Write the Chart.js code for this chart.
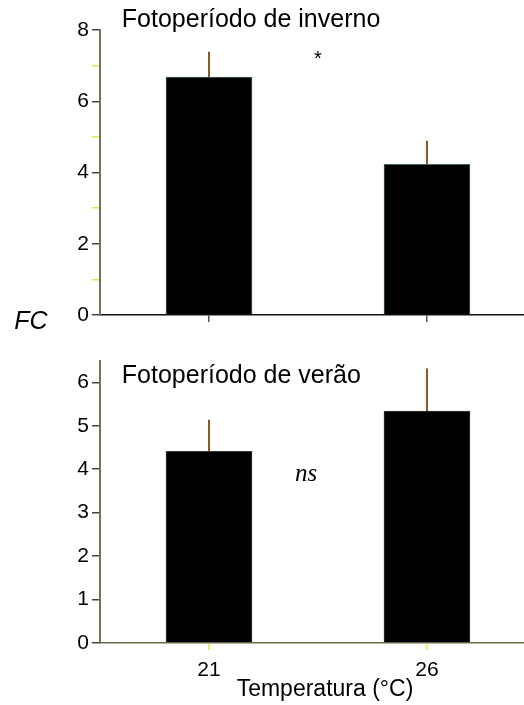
<!DOCTYPE html>
<html lang="pt">
<head>
<meta charset="UTF-8">
<title>FC - fotoperíodo e temperatura</title>
<script src="https://cdn.jsdelivr.net/npm/chart.js@4.4.1/dist/chart.umd.min.js"></script>
<style>
  body { margin: 0; background: #fff; }
  #wrap { position: relative; width: 524px; height: 705px; }
  #wrap canvas { position: absolute; left: 0; }
</style>
</head>
<body>
<div id="wrap">
  <canvas id="inverno" width="524" height="345" style="top:0"></canvas>
  <canvas id="verao" width="524" height="360" style="top:345px"></canvas>
</div>
<script>
// dados
const categorias = ['21', '26'];
const mediaInverno = [6.68, 4.23];
const erroInverno = [0.71, 0.66];
const mediaVerao = [4.41, 5.34];
const erroVerao = [0.73, 0.98];
const ticksInverno = [0, 2, 4, 6, 8];
const ticksVerao = [0, 1, 2, 3, 4, 5, 6];

Chart.defaults.font.family = "'Liberation Sans', Arial, sans-serif";
Chart.defaults.color = '#000';

// linhas de erro (só para cima, sem traço horizontal)
const errosPlugin = {
    id: 'erros',
    afterDatasetsDraw(chart, args, opts) {
        const ctx = chart.ctx;
        const y = chart.scales.y;
        chart.getDatasetMeta(0).data.forEach((bar, i) => {
            const topo = y.getPixelForValue(opts.media[i] + opts.erro[i]);
            ctx.save();
            ctx.strokeStyle = '#8a5a2c';
            ctx.lineWidth = 2;
            ctx.beginPath();
            ctx.moveTo(bar.x, bar.y);
            ctx.lineTo(bar.x, topo);
            ctx.stroke();
            ctx.restore();
        });
    }
};

// textos soltos (títulos dos painéis, *, ns, FC, título do eixo x)
const notasPlugin = {
    id: 'notas',
    afterDraw(chart, args, opts) {
        const ctx = chart.ctx;
        const { x, y } = chart.scales;
        (opts.itens || []).forEach(n => {
            ctx.save();
            ctx.font = n.font;
            ctx.fillStyle = '#000';
            ctx.textAlign = n.align || 'left';
            ctx.textBaseline = 'middle';
            ctx.fillText(n.texto, x.getPixelForValue(n.x), y.getPixelForValue(n.y));
            ctx.restore();
        });
    }
};

function criarGrafico(id, medias, erros, ticksY, maxY, passo, config) {
    const ctx = document.getElementById(id).getContext('2d');
    return new Chart(ctx, {
        type: 'bar',
        data: {
            datasets: [{
                data: medias.map((v, i) => ({ x: i, y: v })),
                backgroundColor: '#000',
                borderColor: config.corBarra,
                borderWidth: 1,
                barThickness: 86
            }]
        },
        options: {
            responsive: false,
            animation: false,
            layout: { padding: { top: config.topo, left: 0, right: 0, bottom: 0 } },
            plugins: {
                legend: { display: false },
                tooltip: { enabled: false },
                erros: { media: medias, erro: erros },
                notas: { itens: config.notas }
            },
            scales: {
                x: {
                    type: 'linear',
                    offset: false,
                    min: -0.5,
                    max: 1.445,
                    afterBuildTicks: axis => { axis.ticks = categorias.map((c, i) => ({ value: i })); },
                    afterFit: scale => { scale.height = config.alturaX; },
                    border: { display: true, color: config.corEixoX, width: 1.5 },
                    grid: { offset: false, drawOnChartArea: false, drawTicks: true, tickLength: 7, color: config.corTickX, lineWidth: 1.5 },
                    ticks: {
                        padding: 8,
                        font: { size: 21 },
                        callback: v => config.rotulosX ? categorias[v] : ''
                    }
                },
                y: {
                    min: 0,
                    max: maxY,
                    afterBuildTicks: axis => {
                        const t = [];
                        for (let v = 0; v <= maxY + 1e-9; v += passo) t.push({ value: v });
                        axis.ticks = t;
                    },
                    afterFit: scale => { scale.width = 100; },
                    border: { display: true, color: '#77734f', width: 2 },
                    grid: {
                        drawOnChartArea: false,
                        drawTicks: true,
                        tickLength: 8,
                        lineWidth: 1.5,
                        color: c => ticksY.includes(c.tick.value) ? '#444' : '#e6e44a'
                    },
                    ticks: {
                        padding: 3,
                        font: { size: 21 },
                        callback: v => ticksY.includes(v) ? String(v) : ''
                    }
                }
            }
        },
        plugins: [errosPlugin, notasPlugin]
    });
}

criarGrafico('inverno', mediaInverno, erroInverno, ticksInverno, 8, 1, {
    topo: 30,
    alturaX: 30,
    corBarra: '#3f6464',
    corEixoX: '#111',
    corTickX: '#555',
    rotulosX: false,
    notas: [
        { texto: 'Fotoperíodo de inverno', x: -0.4, y: 8.29, font: '25px "Liberation Sans", Arial' },
        { texto: '*', x: 0.5, y: 7.16, font: '20px "Liberation Sans", Arial', align: 'center' },
        { texto: 'FC', x: -0.817, y: -0.2, font: 'italic 25px "Liberation Sans", Arial', align: 'center' }
    ]
});

criarGrafico('verao', mediaVerao, erroVerao, ticksVerao, 6.5, 0.5, {
    topo: 11,
    alturaX: 62,
    corBarra: '#3a3a2a',
    corEixoX: '#6e6c4c',
    corTickX: '#e6e44a',
    rotulosX: true,
    notas: [
        { texto: 'Fotoperíodo de verão', x: -0.4, y: 6.14, font: '25px "Liberation Sans", Arial' },
        { texto: 'ns', x: 0.445, y: 3.87, font: 'italic 25px "Liberation Serif", "Times New Roman", serif', align: 'center' },
        { texto: 'Temperatura (°C)', x: 0.532, y: -1.064, font: '23px "Liberation Sans", Arial', align: 'center' }
    ]
});
</script>
</body>
</html>
